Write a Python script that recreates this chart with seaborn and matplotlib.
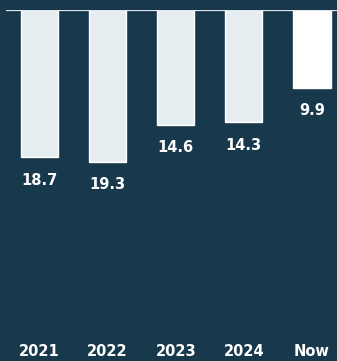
import matplotlib
matplotlib.use("Agg")
import matplotlib.pyplot as plt
import seaborn as sns
import pandas as pd
from matplotlib.transforms import blended_transform_factory

categories = ["2021", "2022", "2023", "2024", "Now"]
values = [18.7, 19.3, 14.6, 14.3, 9.9]
bar_colors = ["#e7eef2", "#e7eef2", "#e7eef2", "#e7eef2", "#ffffff"]

BG = "#18384c"

sns.set_theme(style="white")
plt.rcParams["font.family"] = ["DejaVu Sans"]

W, H = 337, 361
fig = plt.figure(figsize=(W / 100, H / 100), dpi=100, facecolor=BG)
left_px, top_px = 5.5, 9.5
ax = fig.add_axes([left_px / W, 0, 1 - left_px / W, 1 - top_px / H])
ax.set_facecolor(BG)

df = pd.DataFrame({"cat": categories, "val": values})
sns.barplot(data=df, x="cat", y="val", hue="cat", palette=bar_colors,
            width=0.545, legend=False, ax=ax, saturation=1)

span_units = (W - left_px) / 68.1
ax.set_xlim(-0.5, -0.5 + span_units)
ax.set_ylim((H - top_px) / 7.9, 0)
ax.axhline(0, color="#dfe6eb", lw=1.6, zorder=5)

for s in ax.spines.values():
    s.set_visible(False)
ax.set_xticks([])
ax.set_yticks([])
ax.set_xlabel("")
ax.set_ylabel("")

for i, v in enumerate(values):
    ax.annotate(f"{v:.1f}", xy=(i, v), xytext=(0, -16.5), textcoords="offset points",
                ha="center", va="center", color="white", fontsize=10.5,
                fontweight="bold")

trans = blended_transform_factory(ax.transData, fig.transFigure)
for i, c in enumerate(categories):
    ax.text(i, 1 - 351 / H, c, transform=trans, ha="center", va="center",
            color="white", fontsize=10.5, fontweight="bold")

fig.savefig("out.png", dpi=100, facecolor=BG)
